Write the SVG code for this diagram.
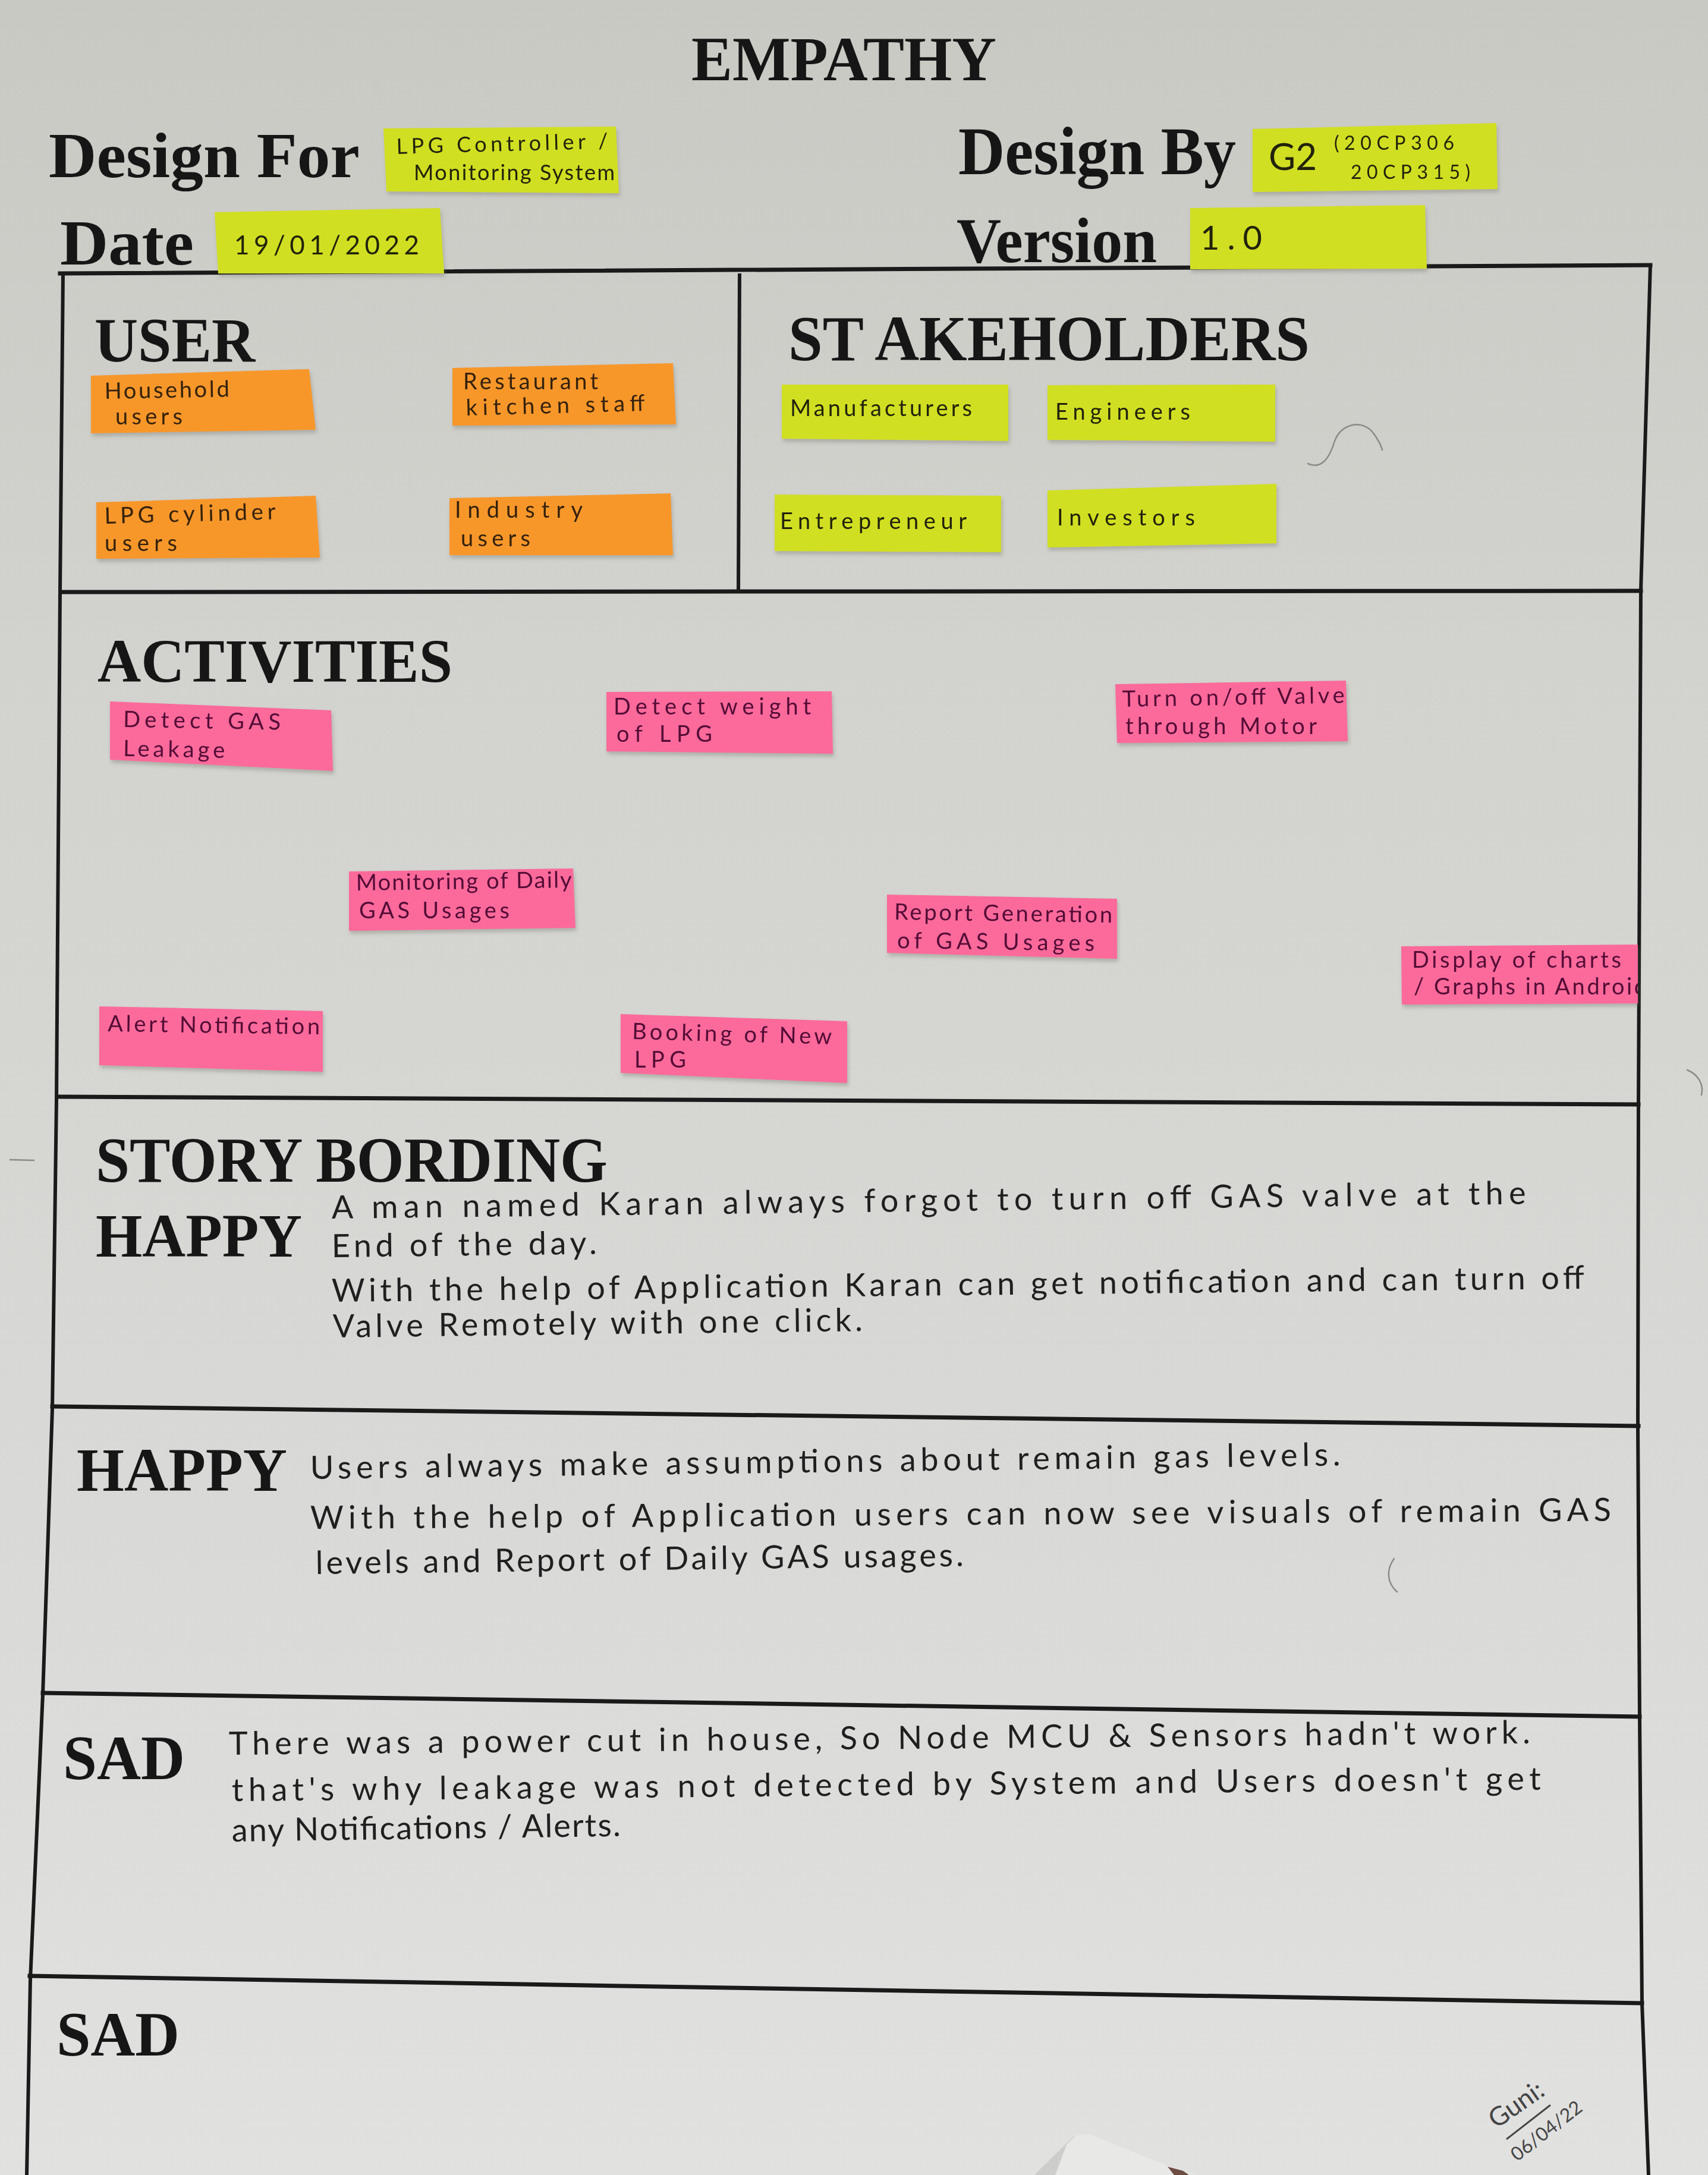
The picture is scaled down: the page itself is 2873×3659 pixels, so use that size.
<svg xmlns="http://www.w3.org/2000/svg" width="2873" height="3659" viewBox="0 0 2873 3659">
  <defs>
    <linearGradient id="paper" x1="0" y1="0" x2="0" y2="1">
      <stop offset="0" stop-color="#c9c9c4"/>
      <stop offset="0.3" stop-color="#d2d2ce"/>
      <stop offset="0.7" stop-color="#d9d9d7"/>
      <stop offset="1" stop-color="#e1e1e0"/>
    </linearGradient>
    <filter id="lift" x="-5%" y="-10%" width="110%" height="130%">
      <feDropShadow dx="2" dy="5" stdDeviation="3" flood-color="#6a6a60" flood-opacity="0.35"/>
    </filter>
    <clipPath id="clip-display">
      <polygon points="2357,1592 2755,1589 2755,1688 2358,1690"/>
    </clipPath>
    <style>
      .head { font-family: "Liberation Serif", "Times New Roman", serif; font-weight: bold; fill: #161616; }
      .hand { font-family: "Lato", "Liberation Sans", Arial, sans-serif; font-weight: normal; }
      .ink { fill: #1f1f1f; }
      .story { font-size: 54px; }
      .note-text { font-size: 38px; }
      .orange { fill: #f7972c; }
      .yellow { fill: #d1df20; }
      .pink { fill: #fb6a9b; }
      .on-orange { fill: #34200c; }
      .on-yellow { fill: #22240c; }
      .on-pink { fill: #520836; }
      .rule { stroke: #1a1a1a; stroke-width: 7; fill: none; stroke-linecap: square; }
      .edge { stroke: #1a1a1a; stroke-width: 6; fill: none; }
      .pencil { stroke: #8a8a86; stroke-width: 2.5; fill: none; stroke-linecap: round; }
    </style>
  </defs>

  <!-- paper sheet -->
  <rect x="0" y="0" width="2873" height="3659" fill="url(#paper)"/>

  <!-- table frame -->
  <g id="frame">
    <line class="rule" x1="101" y1="460" x2="2776" y2="446"/>
    <line class="rule" x1="104" y1="996" x2="2760" y2="994"/>
    <line class="rule" x1="98" y1="1845" x2="2756" y2="1858"/>
    <line class="rule" x1="88" y1="2366" x2="2756" y2="2399"/>
    <line class="rule" x1="72" y1="2848" x2="2758" y2="2888"/>
    <line class="rule" x1="50" y1="3324" x2="2762" y2="3370"/>
    <polyline class="edge" points="106,460 101,996 95,1850 88,2370 72,2850 51,3330 45,3659"/>
    <polyline class="edge" points="2776,446 2760,994 2756,1858 2755,2399 2758,2888 2762,3370 2773,3659"/>
    <line class="edge" x1="1244" y1="460" x2="1242" y2="996"/>
  </g>

  <!-- title and header fields -->
  <g id="header">
    <text class="head" x="1163" y="135" font-size="106" textLength="513" lengthAdjust="spacingAndGlyphs">EMPATHY</text>
    <text class="head" x="82" y="298" font-size="108" textLength="523" lengthAdjust="spacingAndGlyphs">Design For</text>
    <text class="head" x="1612" y="293" font-size="114" textLength="467" lengthAdjust="spacingAndGlyphs">Design By</text>
    <text class="head" x="101" y="445" font-size="108" textLength="225" lengthAdjust="spacingAndGlyphs">Date</text>
    <text class="head" x="1609" y="441" font-size="108" textLength="337" lengthAdjust="spacingAndGlyphs">Version</text>
  </g>

  <g id="note-design-for" filter="url(#lift)">
    <polygon class="yellow" points="645,216 1036,213 1041,325 650,322"/>
    <text class="hand on-yellow" x="667" y="259" font-size="36" textLength="356" lengthAdjust="spacing" transform="rotate(-1.5 667 259)">LPG Controller /</text>
    <text class="hand on-yellow" x="696" y="303" font-size="36" textLength="338" lengthAdjust="spacing">Monitoring System</text>
  </g>
  <g id="note-design-by" filter="url(#lift)">
    <polygon class="yellow" points="2107,217 2517,207 2519,318 2107,323"/>
    <text class="hand on-yellow" x="2134" y="286" font-size="62">G2</text>
    <text class="hand on-yellow" x="2244" y="252" font-size="32" textLength="202" lengthAdjust="spacing">(20CP306</text>
    <text class="hand on-yellow" x="2272" y="301" font-size="32" textLength="201" lengthAdjust="spacing">20CP315)</text>
  </g>
  <g id="note-date" filter="url(#lift)">
    <polygon class="yellow" points="361,357 740,350 747,460 367,460"/>
    <text class="hand on-yellow" x="394" y="428" font-size="44" textLength="311" lengthAdjust="spacing">19/01/2022</text>
  </g>
  <g id="note-version" filter="url(#lift)">
    <polygon class="yellow" points="2002,350 2397,345 2400,452 2002,453"/>
    <text class="hand on-yellow" x="2019" y="420" font-size="56" textLength="104" lengthAdjust="spacing">1.0</text>
  </g>

  <!-- USER section -->
  <g id="user-section">
    <text class="head" x="159" y="608" font-size="106" textLength="270" lengthAdjust="spacingAndGlyphs">USER</text>
  </g>
  <g id="user-household" filter="url(#lift)">
    <polygon class="orange" points="153,632 520,621 531,723 153,729"/>
    <text class="hand note-text on-orange" x="176" y="671" textLength="210" lengthAdjust="spacing" transform="rotate(-1 176 671)">Household</text>
    <text class="hand note-text on-orange" x="194" y="714" textLength="113" lengthAdjust="spacing">users</text>
  </g>
  <g id="user-restaurant" filter="url(#lift)">
    <polygon class="orange" points="761,619 1132,611 1137,714 761,716"/>
    <text class="hand note-text on-orange" x="779" y="655" textLength="227" lengthAdjust="spacing">Restaurant</text>
    <text class="hand note-text on-orange" x="784" y="699" textLength="301" lengthAdjust="spacing" transform="rotate(-1.5 784 699)">kitchen staff</text>
  </g>
  <g id="user-cylinder" filter="url(#lift)">
    <polygon class="orange" points="162,845 531,834 538,938 162,940"/>
    <text class="hand note-text on-orange" x="176" y="881" textLength="288" lengthAdjust="spacing" transform="rotate(-1.5 176 881)">LPG cylinder</text>
    <text class="hand note-text on-orange" x="176" y="927" textLength="122" lengthAdjust="spacing">users</text>
  </g>
  <g id="user-industry" filter="url(#lift)">
    <polygon class="orange" points="756,838 1128,830 1132,934 756,934"/>
    <text class="hand note-text on-orange" x="765" y="871" textLength="215" lengthAdjust="spacing">Industry</text>
    <text class="hand note-text on-orange" x="775" y="919" textLength="117" lengthAdjust="spacing">users</text>
  </g>

  <!-- STAKEHOLDERS section -->
  <g id="stakeholders-section">
    <text class="head" x="1326" y="606" font-size="108" textLength="877" lengthAdjust="spacingAndGlyphs">ST AKEHOLDERS</text>
    <path class="pencil" d="M2200,780 C2222,790 2236,772 2245,742 C2256,712 2290,706 2308,726 C2318,738 2324,752 2325,757"/>
  </g>
  <g id="stake-manufacturers" filter="url(#lift)">
    <polygon class="yellow" points="1315,647 1696,647 1696,742 1315,738"/>
    <text class="hand note-text on-yellow" x="1329" y="700" textLength="306" lengthAdjust="spacing">Manufacturers</text>
  </g>
  <g id="stake-engineers" filter="url(#lift)">
    <polygon class="yellow" points="1762,648 2145,647 2145,743 1762,740"/>
    <text class="hand note-text on-yellow" x="1775" y="706" textLength="227" lengthAdjust="spacing">Engineers</text>
  </g>
  <g id="stake-entrepreneur" filter="url(#lift)">
    <polygon class="yellow" points="1303,832 1684,834 1684,929 1303,927"/>
    <text class="hand note-text on-yellow" x="1312" y="890" textLength="314" lengthAdjust="spacing">Entrepreneur</text>
  </g>
  <g id="stake-investors" filter="url(#lift)">
    <polygon class="yellow" points="1762,825 2147,814 2147,914 1762,921"/>
    <text class="hand note-text on-yellow" x="1778" y="884" textLength="232" lengthAdjust="spacing">Investors</text>
  </g>

  <!-- ACTIVITIES section -->
  <g id="activities-section">
    <text class="head" x="164" y="1147" font-size="103" textLength="597" lengthAdjust="spacingAndGlyphs">ACTIVITIES</text>
  </g>
  <g id="act-detect-gas" filter="url(#lift)">
    <polygon class="pink" points="185,1180 557,1195 560,1297 185,1278"/>
    <text class="hand note-text on-pink" x="207" y="1223" textLength="265" lengthAdjust="spacing" transform="rotate(1 207 1223)">Detect GAS</text>
    <text class="hand note-text on-pink" x="207" y="1272" textLength="171" lengthAdjust="spacing" transform="rotate(1 207 1272)">Leakage</text>
  </g>
  <g id="act-detect-weight" filter="url(#lift)">
    <polygon class="pink" points="1020,1164 1399,1163 1401,1268 1020,1264"/>
    <text class="hand note-text on-pink" x="1032" y="1202" textLength="332" lengthAdjust="spacing">Detect weight</text>
    <text class="hand note-text on-pink" x="1037" y="1248" textLength="161" lengthAdjust="spacing">of LPG</text>
  </g>
  <g id="act-valve" filter="url(#lift)">
    <polygon class="pink" points="1876,1151 2264,1145 2267,1247 1879,1250"/>
    <text class="hand note-text on-pink" x="1888" y="1189" textLength="374" lengthAdjust="spacing" transform="rotate(-1 1888 1189)">Turn on/off Valve</text>
    <text class="hand note-text on-pink" x="1893" y="1235" textLength="322" lengthAdjust="spacing">through Motor</text>
  </g>
  <g id="act-monitoring" filter="url(#lift)">
    <polygon class="pink" points="587,1466 964,1461 968,1561 587,1566"/>
    <text class="hand note-text on-pink" x="599" y="1498" textLength="363" lengthAdjust="spacing" transform="rotate(-0.8 599 1498)">Monitoring of Daily</text>
    <text class="hand note-text on-pink" x="604" y="1545" textLength="253" lengthAdjust="spacing">GAS Usages</text>
  </g>
  <g id="act-report" filter="url(#lift)">
    <polygon class="pink" points="1492,1505 1879,1512 1879,1613 1492,1603"/>
    <text class="hand note-text on-pink" x="1504" y="1547" textLength="367" lengthAdjust="spacing" transform="rotate(0.8 1504 1547)">Report Generation</text>
    <text class="hand note-text on-pink" x="1509" y="1595" textLength="332" lengthAdjust="spacing" transform="rotate(0.8 1509 1595)">of GAS Usages</text>
  </g>
  <g id="act-display" filter="url(#lift)">
    <polygon class="pink" points="2357,1592 2755,1589 2755,1688 2358,1690"/>
    <g clip-path="url(#clip-display)">
      <text class="hand note-text on-pink" x="2375" y="1628" textLength="352" lengthAdjust="spacing">Display of charts</text>
      <text class="hand note-text on-pink" x="2378" y="1673" textLength="392" lengthAdjust="spacing">/ Graphs in Android</text>
    </g>
  </g>
  <g id="act-alert" filter="url(#lift)">
    <polygon class="pink" points="167,1693 543,1701 543,1803 167,1792"/>
    <text class="hand note-text on-pink" x="181" y="1735" textLength="357" lengthAdjust="spacing" transform="rotate(0.8 181 1735)">Alert Notification</text>
  </g>
  <g id="act-booking" filter="url(#lift)">
    <polygon class="pink" points="1044,1706 1425,1718 1425,1822 1044,1805"/>
    <text class="hand note-text on-pink" x="1063" y="1748" textLength="336" lengthAdjust="spacing" transform="rotate(1.5 1063 1748)">Booking of New</text>
    <text class="hand note-text on-pink" x="1067" y="1796" textLength="87" lengthAdjust="spacing">LPG</text>
  </g>

  <!-- STORY BORDING: first happy scenario -->
  <g id="story-happy-1">
    <text class="head" x="161" y="1988" font-size="108" textLength="861" lengthAdjust="spacingAndGlyphs">STORY BORDING</text>
    <text class="head" x="161" y="2114" font-size="104" textLength="347" lengthAdjust="spacingAndGlyphs">HAPPY</text>
    <text class="hand ink story" x="558" y="2050" textLength="2009" lengthAdjust="spacing" transform="rotate(-0.7 558 2050)">A man named Karan always forgot to turn off GAS valve at the</text>
    <text class="hand ink story" x="558" y="2115" textLength="446" lengthAdjust="spacing" transform="rotate(-0.7 558 2115)">End of the day.</text>
    <text class="hand ink story" x="558" y="2190" textLength="2107" lengthAdjust="spacing" transform="rotate(-0.6 558 2190)">With the help of Application Karan can get notification and can turn off</text>
    <text class="hand ink story" x="560" y="2250" textLength="891" lengthAdjust="spacing" transform="rotate(-0.7 560 2250)">Valve Remotely with one click.</text>
  </g>

  <!-- second happy scenario -->
  <g id="story-happy-2">
    <text class="head" x="129" y="2508" font-size="104" textLength="354" lengthAdjust="spacingAndGlyphs">HAPPY</text>
    <text class="hand ink story" x="522" y="2488" textLength="1733" lengthAdjust="spacing" transform="rotate(-0.75 522 2488)">Users always make assumptions about remain gas levels.</text>
    <text class="hand ink story" x="522" y="2572" textLength="2188" lengthAdjust="spacing" transform="rotate(-0.35 522 2572)">With the help of Application users can now see visuals of remain GAS</text>
    <text class="hand ink story" x="531" y="2648" textLength="1090" lengthAdjust="spacing" transform="rotate(-0.7 531 2648)">levels and Report of Daily GAS usages.</text>
    <path class="pencil" d="M2345,2622 C2332,2640 2332,2662 2350,2678"/>
  </g>

  <!-- first sad scenario -->
  <g id="story-sad-1">
    <text class="head" x="106" y="2993" font-size="106" textLength="205" lengthAdjust="spacingAndGlyphs">SAD</text>
    <text class="hand ink story" x="385" y="2952" textLength="2189" lengthAdjust="spacing" transform="rotate(-0.5 385 2952)">There was a power cut in house, So Node MCU &amp; Sensors hadn't work.</text>
    <text class="hand ink story" x="390" y="3030" textLength="2202" lengthAdjust="spacing" transform="rotate(-0.5 390 3030)">that's why leakage was not detected by System and Users doesn't get</text>
    <text class="hand ink story" x="390" y="3098" textLength="654" lengthAdjust="spacing" transform="rotate(-0.8 390 3098)">any Notifications / Alerts.</text>
  </g>

  <!-- second sad scenario (empty) with sign-off -->
  <g id="story-sad-2">
    <text class="head" x="95" y="3458" font-size="106" textLength="207" lengthAdjust="spacingAndGlyphs">SAD</text>
  </g>
  <g id="sign-off">
    <text class="hand" x="2517" y="3582" font-size="44" fill="#444444" transform="rotate(-35 2517 3582)">Guni:</text>
    <line x1="2535" y1="3598" x2="2607" y2="3542" stroke="#444444" stroke-width="3" stroke-linecap="round"/>
    <text class="hand" x="2552" y="3637" font-size="32" fill="#444444" textLength="142" lengthAdjust="spacing" transform="rotate(-38 2552 3637)">06/04/22</text>
  </g>

  <!-- small pencil ticks in the margins -->
  <g id="margin-marks">
    <line class="pencil" x1="17" y1="1951" x2="57" y2="1952"/>
    <path class="pencil" d="M2838,1800 C2858,1808 2866,1826 2862,1842"/>
  </g>

  <!-- folded white paper at the lower edge -->
  <g id="paper-corner">
    <polygon points="1740,3659 1808,3592 1775,3659" fill="#cdcdcc"/>
    <polygon points="1775,3659 1794,3608 1810,3592 1832,3590 1962,3643 1990,3652 2012,3659" fill="#e8e8e7"/>
    <polygon points="1964,3645 1990,3652 2000,3659 1975,3659" fill="#6d4c42"/>
  </g>
</svg>
